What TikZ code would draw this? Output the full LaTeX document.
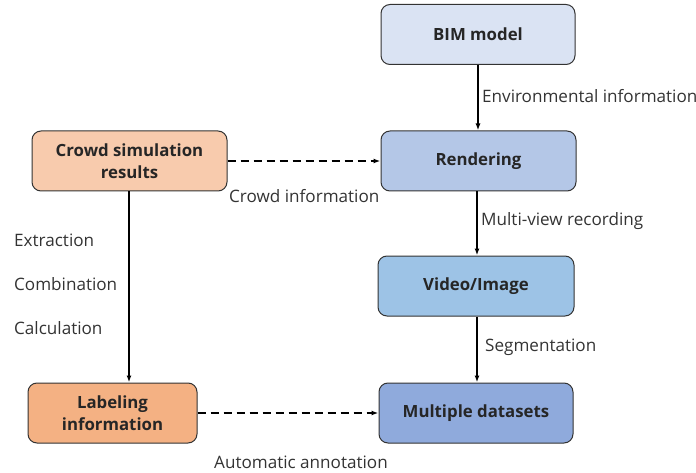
\documentclass[tikz,border=0pt]{standalone}
\usepackage{fontspec}
\setmainfont{Open Sans}
\usetikzlibrary{arrows.meta}
\definecolor{cbim}{HTML}{DAE3F3}
\definecolor{crend}{HTML}{B4C7E7}
\definecolor{cvid}{HTML}{9DC3E6}
\definecolor{cmul}{HTML}{8FAADC}
\definecolor{ccrowd}{HTML}{F8CBAD}
\definecolor{clab}{HTML}{F4B183}
\begin{document}
\begin{tikzpicture}[x=1pt,y=-1pt,
  box/.style={draw=black!80, line width=1pt, rounded corners=9pt, minimum height=60pt, align=center, font=\fontsize{16.8}{22}\selectfont\bfseries, text=black!85},
  lbl/.style={font=\fontsize{17.1}{20}\selectfont, text=black!80, inner sep=0pt, anchor=west},
  arr/.style={-{Latex[length=7pt,width=5pt]}, line width=1.6pt},
  darr/.style={-{Latex[length=7pt,width=5pt]}, line width=1.4pt, dash pattern=on 8pt off 5pt}]
\useasboundingbox (0,0) rectangle (696,473);
\node[box, fill=cbim, minimum width=194pt] (bim) at (478,34.5) {BIM model};
\node[box, fill=crend, minimum width=195pt] (rend) at (478.5,161) {Rendering};
\node[box, fill=cvid, minimum width=196pt] (vid) at (476,286) {Video/Image};
\node[box, fill=cmul, minimum width=194pt] (mul) at (476,413) {Multiple datasets};
\node[box, fill=ccrowd, minimum width=195pt] (crowd) at (129.5,161) {Crowd simulation\\results};
\node[box, fill=clab, minimum width=169pt] (lab) at (112.5,413) {Labeling\\information};
\draw[arr] (bim.south -| 478,0) -- (rend.north -| 478,0);
\draw[arr] (rend.south -| 477,0) -- (vid.north -| 477,0);
\draw[arr] (vid.south -| 477,0) -- (mul.north -| 477,0);
\draw[arr] (crowd.south -| 129,0) -- (lab.north -| 129,0);
\draw[darr] (crowd) -- (rend);
\draw[darr] (lab) -- (mul);
\node[lbl] (l1) at (482,96) {Environmental information};
\node[lbl] (l2) at (229,196) {Crowd information};
\node[lbl] (l3) at (481,221) {Multi-view recording};
\node[lbl] (l4) at (14,240) {Extraction};
\node[lbl] (l5) at (14,284) {Combination};
\node[lbl] (l6) at (14,328) {Calculation};
\node[lbl] (l7) at (485,347) {Segmentation};
\node[lbl] (l8) at (214,462) {Automatic annotation};
\end{tikzpicture}
\end{document}
